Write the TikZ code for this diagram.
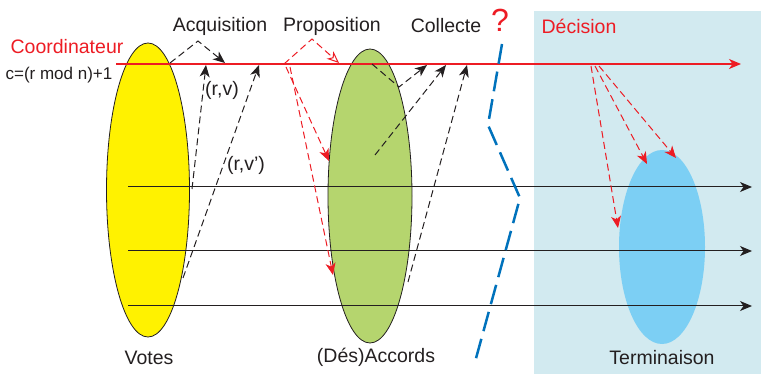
\documentclass[tikz,border=0pt]{standalone}
\usepackage{fontspec}
\setmainfont{Liberation Sans}
\usetikzlibrary{positioning,arrows.meta,shapes.geometric}

\definecolor{ink}{HTML}{231F20}
\definecolor{coordred}{HTML}{ED1C24}
\definecolor{voteyellow}{HTML}{FFF200}
\definecolor{accgreen}{HTML}{B5D56E}
\definecolor{termblue}{HTML}{7CCFF4}
\definecolor{decbg}{HTML}{D2EAF0}
\definecolor{sepblue}{HTML}{0072BC}

\begin{document}
\begin{tikzpicture}[x=1pt,y=-1pt,
  lbl/.style={text=ink,font=\fontsize{19.5}{22}\selectfont,inner sep=0pt},
  rlbl/.style={lbl,text=coordred},
  small/.style={lbl,font=\fontsize{17}{20}\selectfont},
  phase/.style={ellipse,inner sep=0pt,line width=0.8pt},
  dsh/.style={ink,line width=1pt,dash pattern=on 7pt off 4pt},
  rdsh/.style={coordred,line width=1pt,dash pattern=on 7pt off 4pt},
  arr/.style={-{Stealth[length=12pt,width=10pt,inset=3.5pt]}},
  oarr/.style={-{Stealth[open,length=12pt,width=10pt,inset=3.5pt]}},
  proc/.style={ink,line width=1pt,-{Stealth[length=12pt,width=10pt,inset=3.5pt]}}
]
\useasboundingbox (0,0) rectangle (761,374);
% zone de decision
\fill[decbg] (534,11) rectangle (761,374);

% les trois ensembles
\node[phase,draw=ink,fill=voteyellow,minimum width=83pt,minimum height=294pt] (votes) at (148,190) {};
\node[phase,draw=ink,fill=accgreen,minimum width=84pt,minimum height=294pt] (accords) at (370,196) {};
\node[phase,fill=termblue,minimum width=86pt,minimum height=194pt] (term) at (662,247) {};

\node[lbl] (votesl) at (149,358) {Votes};
\node[lbl] (accordsl) at (376,357) {(Dés)Accords};
\node[lbl] (terml) at (662,358) {Terminaison};

% etapes
\node[lbl] (acq) at (220,26) {Acquisition};
\node[lbl] (prop) at (332,26) {Proposition};
\node[lbl] (coll) at (446,26) {Collecte};
\node[rlbl] (dec) at (579,26) {Décision};
\node[text=coordred,font=\fontsize{32}{36}\selectfont,inner sep=0pt] (quest) at (500,20) {?};

\node[rlbl] (coordl) at (67,47) {Coordinateur};
\node[small] (cform) at (59,75) {c=(r mod n)+1};
\node[lbl] (rv) at (222,90) {(r,v)};
\node[lbl] (rvp) at (246,165) {(r,v')};

% processus
\coordinate (p1a) at (128,187); \coordinate (p1b) at (752,187);
\coordinate (p2a) at (128,251); \coordinate (p2b) at (752,251);
\coordinate (p3a) at (128,306); \coordinate (p3b) at (752,306);
\draw[proc] (p1a) -- (p1b);
\draw[proc] (p2a) -- (p2b);
\draw[proc] (p3a) -- (p3b);

% coordinateur
\coordinate (crdA) at (116,64); \coordinate (crdB) at (741,64);
\draw[coordred,line width=1.1pt,-{Stealth[length=12pt,width=10pt,inset=3.5pt]}] (crdA) -- (crdB);

% acquisition
\coordinate (q1s) at (170,63); \coordinate (q1m) at (198,41); \coordinate (q1e) at (225,63);
\draw[dsh,arr] (q1s) -- (q1m) -- (q1e);
\coordinate (rv1s) at (192,189); \coordinate (rv1e) at (206,65);
\draw[dsh,arr] (rv1s) -- (rv1e);
\coordinate (rv2s) at (183,278); \coordinate (rv2e) at (259,65);
\draw[dsh,arr] (rv2s) -- (rv2e);

% proposition
\coordinate (pr0s) at (284,64); \coordinate (pr0m) at (312,39); \coordinate (pr0e) at (339,63);
\draw[rdsh,oarr] (pr0s) -- (pr0m) -- (pr0e);
\coordinate (pr1s) at (286,67); \coordinate (pr1e) at (329,161);
\draw[rdsh,arr] (pr1s) -- (pr1e);
\coordinate (pr2s) at (290,67); \coordinate (pr2e) at (333,275);
\draw[rdsh,arr] (pr2s) -- (pr2e);

% collecte
\coordinate (co1s) at (372,64); \coordinate (co1m) at (399,87); \coordinate (co1e) at (427,65);
\draw[dsh,arr] (co1s) -- (co1m) -- (co1e);
\coordinate (co2s) at (375,155); \coordinate (co2e) at (446,65);
\draw[dsh,arr] (co2s) -- (co2e);
\coordinate (co3s) at (408,282); \coordinate (co3e) at (467,65);
\draw[dsh,arr] (co3s) -- (co3e);

% decision
\coordinate (de1s) at (591,66); \coordinate (de1e) at (618,228);
\coordinate (de2s) at (595,66); \coordinate (de2e) at (647,164);
\coordinate (de3s) at (599,66); \coordinate (de3e) at (676,158);
\draw[rdsh,arr] (de1s) -- (de1e);
\draw[rdsh,arr] (de2s) -- (de2e);
\draw[rdsh,arr] (de3s) -- (de3e);

% frontiere
\coordinate (s1) at (502,44); \coordinate (s2) at (488,125);
\coordinate (s3) at (520,198); \coordinate (s4) at (475,362);
\draw[sepblue,line width=2.5pt,dash pattern=on 20pt off 8pt] (s1) -- (s2) -- (s3) -- (s4);
\end{tikzpicture}
\end{document}
